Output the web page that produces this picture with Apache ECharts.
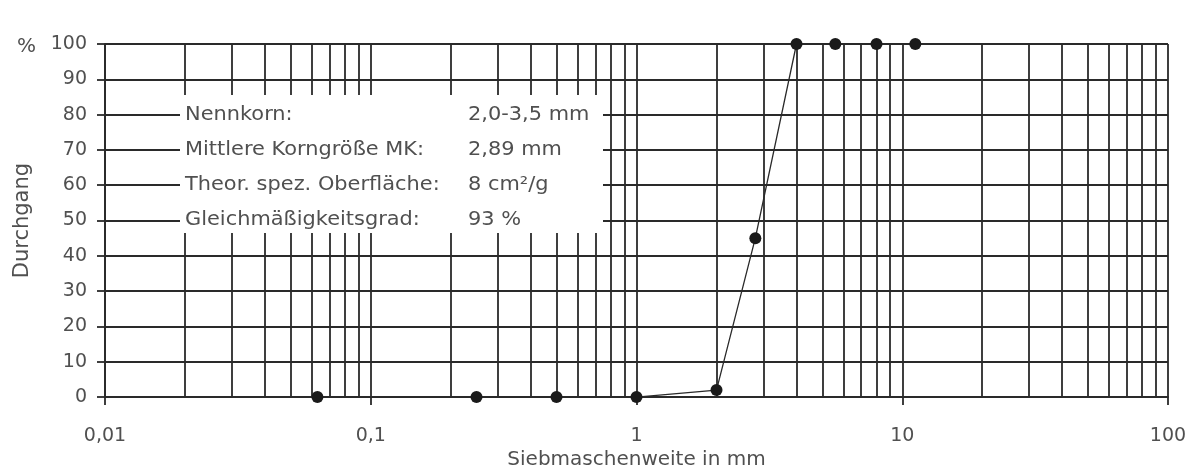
<!DOCTYPE html>
<html>
<head>
<meta charset="utf-8">
<script src="https://cdn.jsdelivr.net/npm/echarts@6/dist/echarts.min.js"></script>
<style>
  html, body { margin: 0; padding: 0; background: #fff; }
  #chart { width: 1193px; height: 475px; }
</style>
</head>
<body>
<div id="chart"></div>
<script>
// Sieblinie: Durchgang über Siebmaschenweite

const sieveSizes = [0.063, 0.25, 0.5, 1, 2, 2.8, 4, 5.6, 8, 11.2];
const passing = [0, 0, 0, 0, 2, 45, 100, 100, 100, 100];

// Nebenlinien des log. Rasters (2..9 je Dekade)
const decades = [0.01, 0.1, 1, 10];
const minorSteps = [2, 3, 4, 5, 6, 7, 8, 9];

const xTickLabels = { '0.01': '0,01', '0.1': '0,1', '1': '1', '10': '10', '100': '100' };

const infoLabels = ['Nennkorn:', 'Mittlere Korngröße MK:', 'Theor. spez. Oberfläche:', 'Gleichmäßigkeitsgrad:'];
const infoValues = ['2,0-3,5 mm', '2,89 mm', '8 cm²/g', '93 %'];
const infoRows = [80, 70, 60, 50];

const FONT = 'DejaVu Sans';
const TEXT_COLOR = '#505050';
const LINE_COLOR = '#2a2a2a';

const chart = echarts.init(document.getElementById('chart'));

const minorLines = [];
decades.forEach(d => minorSteps.forEach(s => minorLines.push({ xAxis: d * s })));

const option = {
    animation: false,
    backgroundColor: '#fff',
    grid: { left: 105, right: 25, top: 44, bottom: 76 },
    xAxis: {
        type: 'log',
        logBase: 10,
        min: 0.01,
        max: 100,
        name: 'Siebmaschenweite in mm',
        nameLocation: 'middle',
        nameGap: 49,
        nameTextStyle: { fontFamily: FONT, fontSize: 20, color: TEXT_COLOR },
        axisLine: { show: true, lineStyle: { color: LINE_COLOR, width: 1.8 } },
        axisTick: { show: true, inside: false, length: 8, lineStyle: { color: LINE_COLOR, width: 1.8 } },
        axisLabel: {
            margin: 29,
            fontFamily: FONT,
            fontSize: 19,
            color: TEXT_COLOR,
            formatter: v => xTickLabels[String(v)] || String(v).replace('.', ',')
        },
        splitLine: { show: true, showMinLine: true, showMaxLine: true, lineStyle: { color: LINE_COLOR, width: 1.8 } }
    },
    yAxis: {
        type: 'value',
        min: 0,
        max: 100,
        interval: 10,
        name: 'Durchgang',
        nameLocation: 'middle',
        nameGap: 72,
        nameTextStyle: { fontFamily: FONT, fontSize: 21, color: TEXT_COLOR },
        axisLine: { show: true, lineStyle: { color: LINE_COLOR, width: 1.8 } },
        axisTick: { show: true, inside: false, length: 8, lineStyle: { color: LINE_COLOR, width: 1.8 } },
        axisLabel: { margin: 18, fontFamily: FONT, fontSize: 19, color: TEXT_COLOR },
        splitLine: { show: true, showMinLine: true, showMaxLine: true, lineStyle: { color: LINE_COLOR, width: 1.8 } }
    },
    series: [{
        type: 'line',
        data: sieveSizes.map((x, i) => [x, passing[i]]),
        symbol: 'circle',
        symbolSize: 12,
        itemStyle: { color: '#1a1a1a' },
        lineStyle: { color: '#2a2a2a', width: 1.3 },
        z: 5,
        markLine: {
            silent: true,
            symbol: ['none', 'none'],
            label: { show: false },
            lineStyle: { color: LINE_COLOR, width: 1.8, type: 'solid' },
            data: minorLines,
            z: 1
        }
    }]
};

chart.setOption(option);

// Kennwerte-Kasten (weiß hinterlegt, verdeckt das Raster)
const textX = 185;
const valueX = 468;
const graphic = [
    { type: 'rect', shape: { x: 180, y: 95, width: 423, height: 138 }, style: { fill: '#fff' }, z: 50, silent: true },
    { type: 'text', x: 17, y: 47, style: { text: '%', fontFamily: FONT, fontSize: 20, fill: TEXT_COLOR, verticalAlign: 'middle' }, z: 60 }
];
infoRows.forEach((v, i) => {
    const y = chart.convertToPixel({ yAxisIndex: 0 }, v);
    graphic.push({ type: 'text', x: textX, y: y, scaleX: 1.1, style: { text: infoLabels[i], fontFamily: FONT, fontSize: 19, fill: TEXT_COLOR, verticalAlign: 'middle' }, z: 60 });
    graphic.push({ type: 'text', x: valueX, y: y, scaleX: 1.1, style: { text: infoValues[i], fontFamily: FONT, fontSize: 19, fill: TEXT_COLOR, verticalAlign: 'middle' }, z: 60 });
});
chart.setOption({ graphic: graphic });
</script>
</body>
</html>
